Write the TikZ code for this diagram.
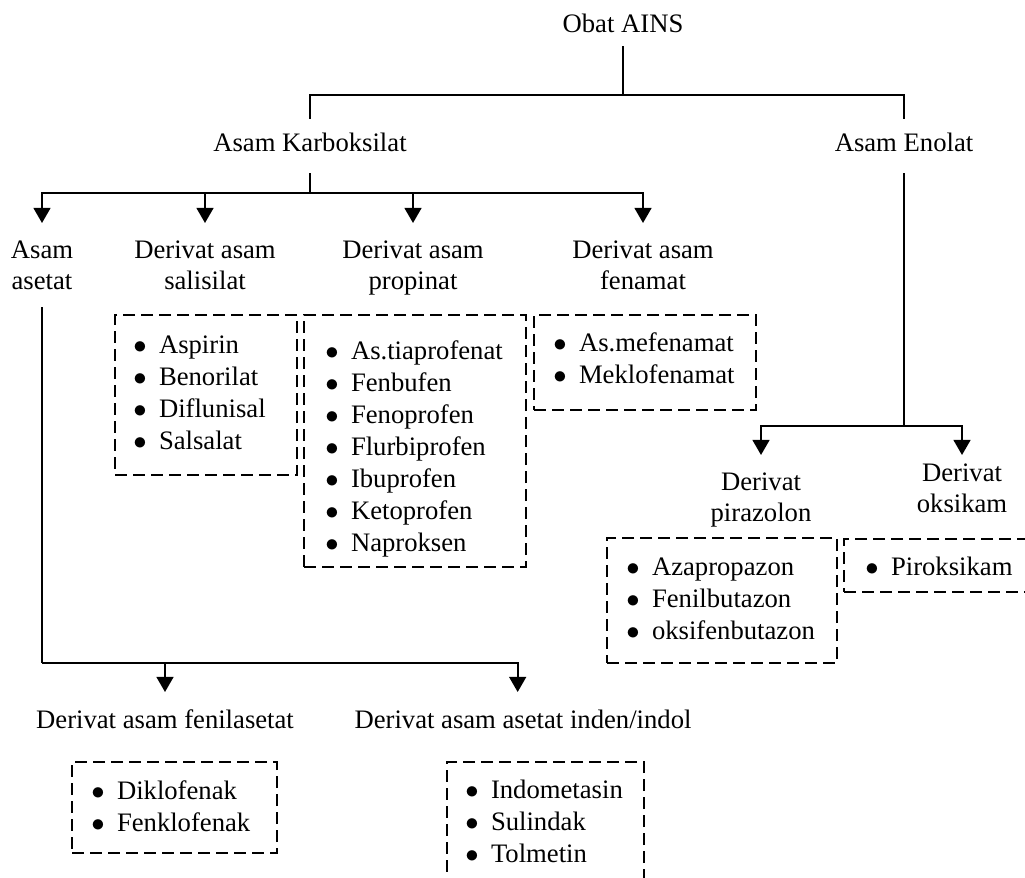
\documentclass[tikz,border=0pt]{standalone}
\usepackage{fontspec}
\setmainfont{Liberation Serif}
\usetikzlibrary{arrows.meta,fit}
\newcommand{\itm}[1]{\makebox[10.6pt][l]{\hspace{-0.9pt}$\bullet$}#1}

\begin{document}
\begin{tikzpicture}[x=0.45pt,y=-0.45pt,
  font=\fontsize{12}{13.8}\selectfont,
  lbl/.style={anchor=base,inner sep=0pt,text height=8pt,text depth=2.5pt,outer ysep=7pt},
  sub/.style={anchor=north,align=center,inner sep=0pt,outer ysep=8pt},
  lst/.style={anchor=north west,align=left,inner sep=0pt,font=\fontsize{12}{14.4}\selectfont},
  dbox/.style={draw,line width=0.8pt,dash pattern=on 5.4pt off 2.7pt,inner sep=0pt},
  conn/.style={line width=0.9pt},
  arr/.style={conn,-{Triangle[width=7.6pt,length=6.8pt]}}]
  \useasboundingbox (0,0) rectangle (1025,877);
  \clip (0,0) rectangle (1025,877);

  % top level
  \node[lbl,outer ysep=3.5pt] (ains) at (623,33) {Obat AINS};
  \node[lbl] (karbo) at (310,152) {Asam Karboksilat};
  \node[lbl] (enol) at (904,152) {Asam Enolat};
  \coordinate (bus1) at (623,95);
  \draw[conn] (ains.south) -- (bus1);
  \draw[conn] (karbo.north) |- (bus1) -| (enol.north);

  % asam karboksilat
  \node[sub] (aset) at (42,223) {Asam\\asetat};
  \node[sub] (sali) at (205,223) {Derivat asam\\salisilat};
  \node[sub] (prop) at (413,223) {Derivat asam\\propinat};
  \node[sub] (fena) at (643,223) {Derivat asam\\fenamat};
  \coordinate (bus2) at (310,193);
  \draw[conn] (karbo.south) -- (bus2);
  \foreach \n in {aset,sali,prop,fena}
    \draw[arr] (bus2) -| (\n.north);

  \node[dbox,fit={(115,315) (297,475)}] (salBox) {};
  \node[lst] (salList) at (135,335)
    {\itm{Aspirin}\\\itm{Benorilat}\\\itm{Diflunisal}\\\itm{Salsalat}};
  \node[dbox,fit={(304,315) (526,567)}] (propBox) {};
  \node[lst] (propList) at (327,340)
    {\itm{As.tiaprofenat}\\\itm{Fenbufen}\\\itm{Fenoprofen}\\\itm{Flurbiprofen}\\
     \itm{Ibuprofen}\\\itm{Ketoprofen}\\\itm{Naproksen}};
  \node[dbox,fit={(534,315) (756,410)}] (fenaBox) {};
  \node[lst] (fenaList) at (555,332)
    {\itm{As.mefenamat}\\\itm{Meklofenamat}};

  % asam asetat
  \coordinate (bus3) at (42,663);
  \draw[conn] (aset.south) -- (bus3);
  \node[sub] (fenil) at (165,692) {Derivat asam fenilasetat};
  \node[sub] (indol) at (523,692) {Derivat asam asetat inden/indol};
  \draw[arr] (bus3) -| (fenil.north);
  \draw[arr] (bus3) -| ([xshift=-2.4pt]indol.north);

  \node[dbox,fit={(72,762) (277,853)}] (fenilBox) {};
  \node[lst] (fenilList) at (93,780)
    {\itm{Diklofenak}\\\itm{Fenklofenak}};
  \node[dbox,fit={(447,762) (644,900)}] (indolBox) {};
  \node[lst] (indolList) at (467,780)
    {\itm{Indometasin}\\\itm{Sulindak}\\\itm{Tolmetin}};

  % asam enolat
  \coordinate (bus4) at (904,426);
  \draw[conn] (enol.south) -- (bus4);
  \node[sub] (piraz) at (761,455) {Derivat\\pirazolon};
  \node[sub,outer ysep=4pt] (oksi) at (962,455) {Derivat\\oksikam};
  \draw[arr] (bus4) -| (piraz.north);
  \draw[arr] (bus4) -| (oksi.north);

  \node[dbox,fit={(607,538) (837,663)}] (pirBox) {};
  \node[lst] (pirList) at (628,557)
    {\itm{Azapropazon}\\\itm{Fenilbutazon}\\\itm{oksifenbutazon}};
  \node[dbox,fit={(844,539) (1045,592)}] (oksBox) {};
  \node[lst] (oksList) at (867,557) {\itm{Piroksikam}};
\end{tikzpicture}
\end{document}
